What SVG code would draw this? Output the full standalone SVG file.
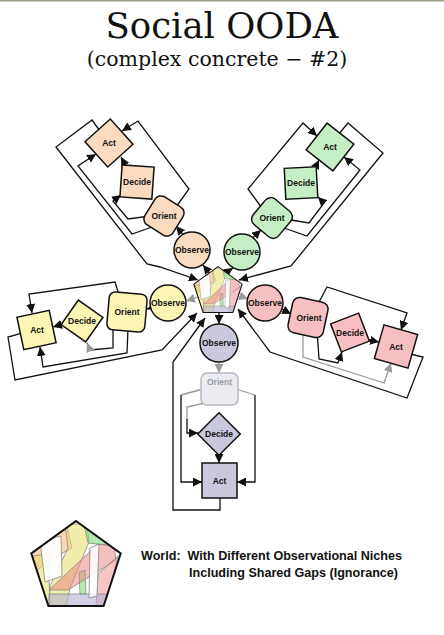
<svg xmlns="http://www.w3.org/2000/svg" width="444" height="635" viewBox="0 0 444 635">
<style>
.t{font-family:"DejaVu Serif",serif;fill:#111;text-anchor:middle}
.lb{font-family:"Liberation Sans",Arial,sans-serif;font-weight:bold;font-size:8.5px;text-anchor:middle;fill:#111}
.lg{font-family:"Liberation Sans",Arial,sans-serif;font-weight:bold;font-size:12.5px;fill:#111;white-space:pre}
.n{stroke:#111;stroke-width:1.5}
.c{fill:none;stroke:#111;stroke-width:1.3;stroke-linejoin:miter}
.ar{marker-end:url(#ah)}
.ag{marker-end:url(#ahg)}
.gy{stroke:#9a9a9a}
.or{fill:#fbdbbf}.gr{fill:#c6eec4}.ye{fill:#fbf6b4}.pk{fill:#f8bfc3}.pu{fill:#c9c8dd}
</style>
<defs>
<marker id="ah" markerUnits="userSpaceOnUse" markerWidth="10" markerHeight="9" refX="9" refY="4.5" orient="auto"><path d="M0,0 L9,4.5 L0,9 z" fill="#111"/></marker>
<marker id="ahg" markerUnits="userSpaceOnUse" markerWidth="10" markerHeight="9" refX="9" refY="4.5" orient="auto"><path d="M0,0 L9,4.5 L0,9 z" fill="#9a9a9a"/></marker>
<clipPath id="pc"><polygon points="0,-47 44.7,-14.5 27.6,38 -27.6,38 -44.7,-14.5"/></clipPath>
<g id="world">
<polygon points="0,-47 44.7,-14.5 27.6,38 -27.6,38 -44.7,-14.5" fill="#fff"/>
<g clip-path="url(#pc)" stroke="#888" stroke-width="0.8">
<polygon points="-46,-14 -10,-46 -4,-20 -30,-6 -40,4" fill="#f5b27a" fill-opacity="0.55"/>
<polygon points="-43,-12 -28,-14 -26,36 -36,38" fill="#e6df6a" fill-opacity="0.55"/>
<path d="M-11,-44 L11,-44 L13,-26 L-6,20 L-10,40 L-27,40 L-26,18 L-8,-20 Z" fill="#e6df6a" fill-opacity="0.55"/>
<polygon points="8,-44 28,-33 38,-22 12,-25" fill="#7fdc7a" fill-opacity="0.6"/>
<polygon points="3,4 9,2 10,26 4,26" fill="#7fdc7a" fill-opacity="0.6"/>
<path d="M-27,22 L22,-24 L38,-22 L40,-8 L-8,22 Z" fill="#ee7f80" fill-opacity="0.5"/>
<polygon points="22,6 42,-12 30,38 20,40" fill="#ee7f80" fill-opacity="0.45"/>
<polygon points="-27,26 32,26 29,40 -27,40" fill="#b4b0d2" fill-opacity="0.6"/>
<polygon points="-36,-27 -15,-32 -14,8 -31,14" fill="#fff" fill-opacity="0.9"/>
<polygon points="14,-20 23,-24 21,28 13,30" fill="#fff" fill-opacity="0.85"/>
</g>
<polygon points="0,-47 44.7,-14.5 27.6,38 -27.6,38 -44.7,-14.5" fill="none" stroke="#111" stroke-width="2"/>
</g>
</defs>

<rect x="0" y="0" width="444" height="1.5" fill="#9c9c88"/>

<g id="title">
<text class="t" x="222" y="38" font-size="35.5">Social OODA</text>
<text class="t" x="217" y="66" font-size="20.5">(complex concrete − #2)</text>
</g>

<g id="connectors">
<!-- orange -->
<path class="c ar" d="M212,276 L203,265"/>
<path class="c ar" d="M186,238 L176,226"/>
<path class="c ar" d="M150,216 L128,219 L113,201 L121,195"/>
<path class="c ar" d="M155,226 L132,234 L78,166 L96,154"/>
<path class="c ar" d="M128,170 L121,157"/>
<path class="c ar" d="M176,207 L189,189 L138,121 L122,131"/>
<path class="c ar" d="M100,131 L92,120 L56,147 L147,264 L160,267 L198,280"/>
<!-- green -->
<path class="c ar" d="M224,274 L233,268"/>
<path class="c ar" d="M249,241 L261,230"/>
<path class="c ar" d="M285,219 L309,223 L324,203 L318,197"/>
<path class="c ar" d="M284,228 L307,236 L360,170 L344,157"/>
<path class="c ar" d="M313,172 L319,160"/>
<path class="c ar" d="M262,208 L248,189 L303,123 L317,136"/>
<path class="c ar" d="M338,135 L348,123 L383,153 L291,266 L239,280"/>
<!-- yellow -->
<path class="c ag gy" d="M198,297 L186,301"/>
<path class="c ar" d="M158,306 L147,309"/>
<path class="c ag" d="M113,328 L113,348 L90,350 L87,343"/>
<path class="c ar" d="M128,328 L127,353 L43,367 L40,347"/>
<path class="c ar" d="M66,323 L53,327"/>
<path class="c ar" d="M120,298 L115,282 L29,294 L32,313"/>
<path class="c ar" d="M22,333 L8,337 L15,380 L162,350 L197,313"/>
<!-- purple -->
<path class="c ar" d="M219,313 L219,324"/>
<path class="c ag gy" d="M219,361 L219,373"/>
<path class="c gy" d="M205,403 L187,407 L187,420"/>
<path class="c ar" d="M187,419 L187,433 L198,433"/>
<path class="c gy" d="M203,389 L181,395"/>
<path class="c ar" d="M181,395 L181,482 L202,482"/>
<path class="c gy" d="M236,389 L255,395"/>
<path class="c ar" d="M255,395 L255,482 L237,482"/>
<path class="c ar" d="M219,454 L219,463"/>
<path class="c ar" d="M220,496 L220,510 L173,510 L173,362 L205,318"/>
<!-- pink -->
<path class="c ag gy" d="M240,296 L248,299"/>
<path class="c ar" d="M280,308 L291,314"/>
<path class="c ar" d="M317,330 L319,359 L338,363 L342,352"/>
<path class="c ag gy" d="M303,330 L303,357 L384,383 L391,363"/>
<path class="c ar" d="M364,339 L379,342"/>
<path class="c ar" d="M318,304 L327,287 L407,313 L401,330"/>
<path class="c ar" d="M410,354 L423,357 L407,398 L270,352 L238,309"/>
</g>

<g id="world-center"><use href="#world" transform="translate(218,292) scale(0.54)"/></g>

<g id="orange-observe"><circle class="n or" cx="192" cy="250" r="18"/><text class="lb" x="192" y="253">Observe</text></g>
<g id="orange-orient"><rect class="n or" x="-16.5" y="-16.5" width="33" height="33" rx="7" transform="translate(164,216) rotate(32)"/><text class="lb" x="164" y="219">Orient</text></g>
<g id="orange-decide"><rect class="n or" x="-16" y="-16" width="32" height="32" transform="translate(137,182) rotate(4)"/><text class="lb" x="137" y="185">Decide</text></g>
<g id="orange-act"><rect class="n or" x="-17" y="-17" width="34" height="34" transform="translate(109,143) rotate(48)"/><text class="lb" x="109" y="146">Act</text></g>

<g id="green-observe"><circle class="n gr" cx="242" cy="252" r="18"/><text class="lb" x="242" y="255">Observe</text></g>
<g id="green-orient"><rect class="n gr" x="-16.5" y="-16.5" width="33" height="33" rx="7" transform="translate(272,218) rotate(40)"/><text class="lb" x="272" y="221">Orient</text></g>
<g id="green-decide"><rect class="n gr" x="-16" y="-15.5" width="32" height="31" transform="translate(301,183) rotate(-3)"/><text class="lb" x="301" y="186">Decide</text></g>
<g id="green-act"><rect class="n gr" x="-17" y="-17" width="34" height="34" transform="translate(330,147) rotate(38)"/><text class="lb" x="330" y="150">Act</text></g>

<g id="yellow-observe"><circle class="n ye" cx="168" cy="303" r="18"/><text class="lb" x="168" y="306">Observe</text></g>
<g id="yellow-orient"><rect class="n ye" x="-19" y="-19" width="38" height="38" rx="6" transform="translate(127,312) rotate(5)"/><text class="lb" x="127" y="315">Orient</text></g>
<g id="yellow-decide"><rect class="n ye" x="-15" y="-15" width="30" height="30" transform="translate(82,321) rotate(35)"/><text class="lb" x="82" y="324">Decide</text></g>
<g id="yellow-act"><rect class="n ye" x="-16.5" y="-16.5" width="33" height="33" transform="translate(36.5,330) rotate(-12)"/><text class="lb" x="37" y="333">Act</text></g>

<g id="purple-observe"><circle class="n pu" cx="219" cy="343" r="19"/><text class="lb" x="219" y="346">Observe</text></g>
<g id="purple-orient"><rect x="201" y="373" width="37" height="32" rx="6" fill="#ebebf2" stroke="#b9b9c2" stroke-width="1.5"/><text class="lb" x="219.5" y="385" style="fill:#9a9aa6">Orient</text></g>
<g id="purple-decide"><rect class="n pu" x="-15" y="-15" width="30" height="30" transform="translate(219,434) rotate(45)"/><text class="lb" x="219" y="437">Decide</text></g>
<g id="purple-act"><rect class="n pu" x="202" y="463" width="35" height="35"/><text class="lb" x="219.5" y="484">Act</text></g>

<g id="pink-observe"><circle class="n pk" cx="265" cy="303" r="18"/><text class="lb" x="265" y="306">Observe</text></g>
<g id="pink-orient"><rect class="n pk" x="-18" y="-18" width="36" height="36" rx="7" transform="translate(308,317.5) rotate(12)"/><text class="lb" x="309" y="321">Orient</text></g>
<g id="pink-decide"><rect class="n pk" x="-15" y="-15" width="30" height="30" transform="translate(350,332.5) rotate(-21)"/><text class="lb" x="350" y="336">Decide</text></g>
<g id="pink-act"><rect class="n pk" x="-17.5" y="-17.5" width="35" height="35" transform="translate(396,346.5) rotate(16)"/><text class="lb" x="396" y="350">Act</text></g>

<g id="legend">
<use href="#world" transform="translate(76,568)"/>
<text class="lg" x="141" y="560" textLength="261" lengthAdjust="spacingAndGlyphs">World:&#160; With Different Observational Niches</text>
<text class="lg" x="189" y="577" textLength="209" lengthAdjust="spacingAndGlyphs">Including Shared Gaps (Ignorance)</text>
</g>
</svg>
